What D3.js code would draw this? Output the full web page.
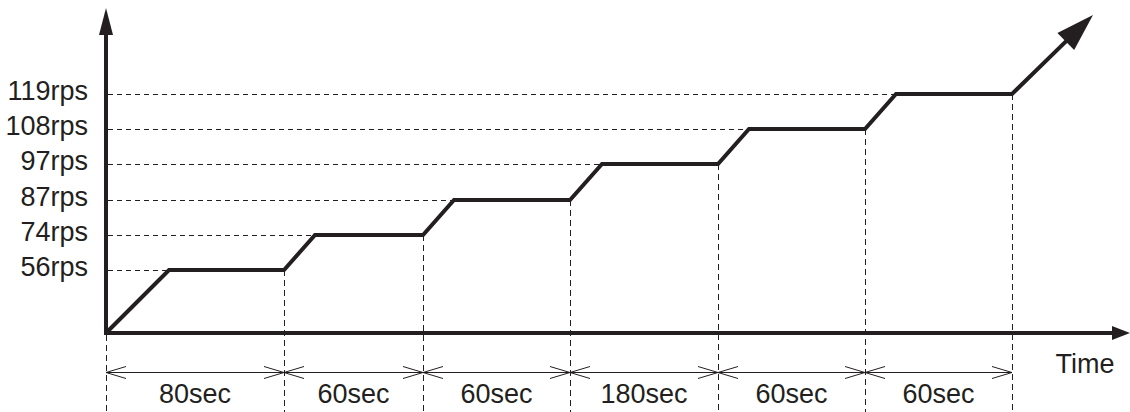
<!DOCTYPE html>
<html>
<head>
<meta charset="utf-8">
<script src="https://cdn.jsdelivr.net/npm/d3@7"></script>
<style>
  html, body { margin: 0; padding: 0; background: #fff; }
  svg text { font-family: "Liberation Sans", Arial, sans-serif; fill: #231f20; }
</style>
</head>
<body>
<div id="chart"></div>
<script>
// Load steps (requests per second) and how long each step is held
const levels = [56, 74, 87, 97, 108, 119];
const levelLabels = ["56rps", "74rps", "87rps", "97rps", "108rps", "119rps"];
const durations = [80, 60, 60, 180, 60, 60];
const durationLabels = ["80sec", "60sec", "60sec", "180sec", "60sec", "60sec"];
const xLabel = "Time";

const width = 1130, height = 412;
const ink = "#231f20";
const fontSize = 27;

const svg = d3.select("#chart").append("svg")
    .attr("width", width)
    .attr("height", height);

// Schematic scales: steps are drawn by index, not by value
const x = d3.scaleLinear()
    .domain([0, 1, 2, durations.length])
    .range([106, 284, 423, 1012])
    .interpolate(d3.interpolateRound);

const y = d3.scaleLinear()
    .domain([0, 1, levels.length])
    .range([333, 270, 94])
    .interpolate(d3.interpolateRound);

const x0 = x(0), y0 = y(0);
const dimY = 372.5;
const crisp = v => Math.round(v) + 0.5;

// ramp end for each level: first ramp at 45 degrees, the rest a little steeper
const rampEnd = levels.map((d, i) => x(i) + Math.round((y(i) - y(i + 1)) * (i === 0 ? 1 : 0.88)));

// horizontal dashed guides
svg.append("g").selectAll("line")
    .data(levels)
    .join("line")
    .attr("x1", x0 + 2)
    .attr("x2", (d, i) => rampEnd[i])
    .attr("y1", (d, i) => crisp(y(i + 1)))
    .attr("y2", (d, i) => crisp(y(i + 1)))
    .attr("stroke", ink)
    .attr("stroke-width", 1)
    .attr("stroke-dasharray", "5,4");

// vertical dashed guides at each segment boundary
svg.append("g").selectAll("line")
    .data(d3.range(durations.length + 1))
    .join("line")
    .attr("x1", i => crisp(x(i)))
    .attr("x2", i => crisp(x(i)))
    .attr("y1", i => i === 0 ? y0 + 2 : y(i))
    .attr("y2", height)
    .attr("stroke", ink)
    .attr("stroke-width", 1)
    .attr("stroke-dasharray", "6,4");

// y axis labels
const yAxis = d3.axisLeft(y)
    .tickValues(d3.range(1, levels.length + 1))
    .tickFormat(i => levelLabels[i - 1])
    .tickSize(0)
    .tickPadding(18);

svg.append("g")
    .attr("transform", `translate(${x0},0)`)
    .call(yAxis)
    .call(g => g.select(".domain").remove())
    .call(g => g.selectAll("text")
        .attr("font-size", fontSize)
        .attr("font-family", "Liberation Sans, Arial, sans-serif")
        .attr("fill", ink)
        .attr("dy", "0.2em"));

// axes with filled arrowheads
svg.append("line")
    .attr("x1", x0).attr("y1", y0 + 2)
    .attr("x2", x0).attr("y2", 34)
    .attr("stroke", ink).attr("stroke-width", 4);
svg.append("path")
    .attr("d", `M${x0},8 L${x0 - 7},35 L${x0 + 7},35 Z`)
    .attr("fill", ink);

svg.append("line")
    .attr("x1", x0 - 2).attr("y1", y0)
    .attr("x2", 1113).attr("y2", y0)
    .attr("stroke", ink).attr("stroke-width", 4);
svg.append("path")
    .attr("d", `M${width},${y0} L1112,${y0 - 7} L1112,${y0 + 7} Z`)
    .attr("fill", ink);

svg.append("text")
    .attr("x", 1085)
    .attr("y", 373)
    .attr("text-anchor", "middle")
    .attr("font-size", fontSize)
    .text(xLabel);

// staircase load line
const pts = [[x0, y0]];
levels.forEach((d, i) => {
    pts.push([rampEnd[i], y(i + 1)]);
    pts.push([x(i + 1), y(i + 1)]);
});

// continuing ramp after the last step
const last = pts[pts.length - 1];
const tip = [1093, 15];
const ang = Math.atan2(tip[1] - last[1], tip[0] - last[0]);
const headLen = 38, headHalf = 12;
const base = [tip[0] - headLen * Math.cos(ang), tip[1] - headLen * Math.sin(ang)];
pts.push([base[0] + 2 * Math.cos(ang), base[1] + 2 * Math.sin(ang)]);

svg.append("path")
    .attr("d", d3.line()(pts))
    .attr("fill", "none")
    .attr("stroke", ink)
    .attr("stroke-width", 4)
    .attr("stroke-linejoin", "miter");

const nx = -Math.sin(ang), ny = Math.cos(ang);
svg.append("path")
    .attr("d", `M${tip[0]},${tip[1]} L${base[0] + nx * headHalf},${base[1] + ny * headHalf} L${base[0] - nx * headHalf},${base[1] - ny * headHalf} Z`)
    .attr("fill", ink);

// duration dimension line
svg.append("line")
    .attr("x1", x0).attr("x2", x(durations.length))
    .attr("y1", dimY).attr("y2", dimY)
    .attr("stroke", ink).attr("stroke-width", 1);

const arm = 20, spread = 6;
const heads = [];
durations.forEach((d, i) => {
    heads.push({ x: x(i), dir: 1 });
    heads.push({ x: x(i + 1), dir: -1 });
});
svg.append("g").selectAll("path")
    .data(heads)
    .join("path")
    .attr("d", h => `M${h.x + h.dir * arm},${dimY - spread} L${h.x},${dimY} L${h.x + h.dir * arm},${dimY + spread}`)
    .attr("fill", "none")
    .attr("stroke", ink)
    .attr("stroke-width", 1);

svg.append("g").selectAll("text")
    .data(durationLabels)
    .join("text")
    .attr("x", (d, i) => (x(i) + x(i + 1)) / 2)
    .attr("y", 403)
    .attr("text-anchor", "middle")
    .attr("font-size", fontSize)
    .text(d => d);
</script>
</body>
</html>
